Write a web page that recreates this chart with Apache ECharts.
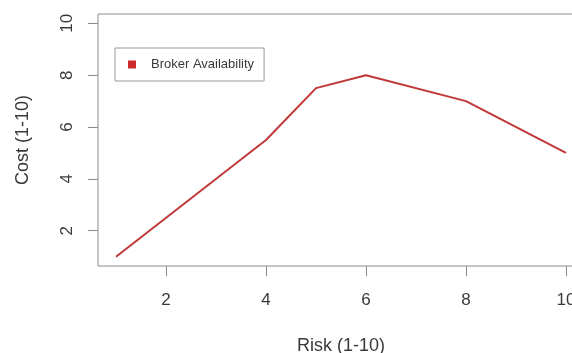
<!DOCTYPE html>
<html>
<head>
<meta charset="utf-8">
<script src="https://cdn.jsdelivr.net/npm/echarts@6/dist/echarts.min.js"></script>
<style>
html,body{margin:0;padding:0;background:#fff;}
#chart{width:572px;height:353px;}
</style>
</head>
<body>
<div id="chart"></div>
<script>
const seriesName = 'Broker Availability';
const riskValues = [1, 4, 5, 6, 8, 10];
const costValues = [1, 5.5, 7.5, 8, 7, 5];
const xTickValues = [2, 4, 6, 8, 10];
const yTickValues = [2, 4, 6, 8, 10];
const xTitle = 'Risk (1-10)';
const yTitle = 'Cost (1-10)';

const points = riskValues.map((x, i) => [x, costValues[i]]);
const font = 'Liberation Sans, Arial, sans-serif';
const textColor = '#3a3a3a';
const axisColor = '#8a8a8a';

const chart = echarts.init(document.getElementById('chart'), null, {renderer: 'canvas'});
chart.setOption({
  animation: false,
  backgroundColor: '#ffffff',
  grid: {
    left: 98, top: 14, width: 486, height: 252,
    outerBoundsMode: 'none', containLabel: false,
    show: true, borderColor: axisColor, borderWidth: 1, backgroundColor: 'transparent'
  },
  legend: {
    left: 115, top: 48,
    orient: 'horizontal',
    borderColor: '#9a9a9a', borderWidth: 1, borderRadius: 0,
    padding: [10, 10, 10, 13],
    icon: 'rect', itemWidth: 8, itemHeight: 8,
    itemStyle: {color: '#cc2a2a'},
    textStyle: {fontFamily: font, fontSize: 13, color: textColor, padding: [0, 0, 0, 10]},
    data: [seriesName]
  },
  xAxis: {
    type: 'value', min: 0.64, max: 10.36,
    name: xTitle, nameLocation: 'middle', nameGap: 71,
    nameTextStyle: {fontFamily: font, fontSize: 18, color: textColor},
    splitLine: {show: false},
    axisLine: {show: false},
    axisTick: {show: true, customValues: xTickValues, length: 10, lineStyle: {color: axisColor}},
    axisLabel: {customValues: xTickValues, fontFamily: font, fontSize: 17, color: textColor, margin: 26}
  },
  yAxis: {
    type: 'value', min: 0.64, max: 10.36,
    name: yTitle, nameLocation: 'middle', nameGap: 66, nameRotate: 90,
    nameTextStyle: {fontFamily: font, fontSize: 18, color: textColor},
    splitLine: {show: false},
    axisLine: {show: false},
    axisTick: {show: true, customValues: yTickValues, length: 10, lineStyle: {color: axisColor}},
    axisLabel: {customValues: yTickValues, rotate: 90, fontFamily: font, fontSize: 17, color: textColor, margin: 22}
  },
  series: [{
    name: seriesName,
    type: 'line',
    data: points,
    showSymbol: false,
    symbol: 'none',
    lineStyle: {color: '#c03838', width: 2},
    itemStyle: {color: '#cc2a2a'}
  }]
});
</script>
</body>
</html>
